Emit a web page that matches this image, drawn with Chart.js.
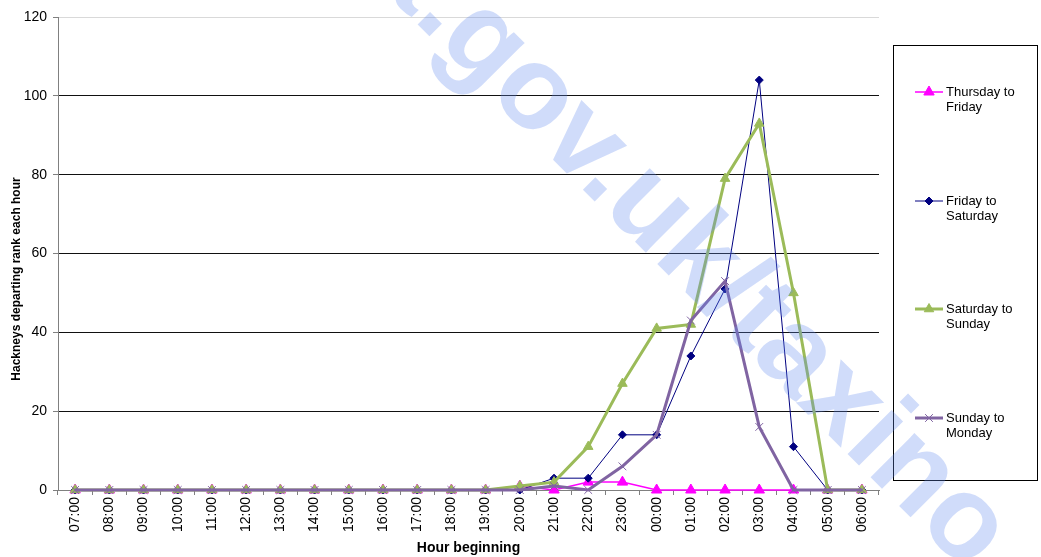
<!DOCTYPE html>
<html>
<head>
<meta charset="utf-8">
<script src="https://cdn.jsdelivr.net/npm/chart.js@4.4.1/dist/chart.umd.min.js"></script>
<style>
  html, body { margin: 0; padding: 0; background: #fff; }
  #wrap { width: 1041px; height: 557px; }
</style>
</head>
<body>
<div id="wrap"><canvas id="rankChart" width="1041" height="557"></canvas></div>
<script>
/* Hackneys departing the rank, hour by hour, four nights */

const hours = ['07:00', '08:00', '09:00', '10:00', '11:00', '12:00', '13:00', '14:00',
    '15:00', '16:00', '17:00', '18:00', '19:00', '20:00', '21:00', '22:00',
    '23:00', '00:00', '01:00', '02:00', '03:00', '04:00', '05:00', '06:00'];

const seriesNames = ['Thursday to Friday', 'Friday to Saturday', 'Saturday to Sunday', 'Sunday to Monday'];

const thuFri = [0, 0, 0, 0, 0, 0, 0, 0, 0, 0, 0, 0, 0, 1, 0, 2, 2, 0, 0, 0, 0, 0, 0, 0];
const friSat = [0, 0, 0, 0, 0, 0, 0, 0, 0, 0, 0, 0, 0, 0, 3, 3, 14, 14, 34, 51, 104, 11, 0, 0];
const satSun = [0, 0, 0, 0, 0, 0, 0, 0, 0, 0, 0, 0, 0, 1, 2, 11, 27, 41, 42, 79, 93, 50, 0, 0];
const sunMon = [0, 0, 0, 0, 0, 0, 0, 0, 0, 0, 0, 0, 0, 0, 1, 0, 6, 14, 43, 53, 16, 0, 0, 0];

const yTicks = [0, 20, 40, 60, 80, 100, 120];

const FONT = '"Liberation Sans", Arial, sans-serif';
Chart.defaults.font.family = FONT;
Chart.defaults.color = '#000';

// legenda v rámečku vpravo, popisky na dva řádky
const boxLegend = {
    id: 'boxLegend',
    afterDraw(chart) {
        const ctx = chart.ctx;
        const left = chart.chartArea.right + 14, right = 1037, top = 45, bottom = 480;
        ctx.save();
        ctx.strokeStyle = '#000';
        ctx.lineWidth = 1;
        ctx.strokeRect(left + 0.5, top + 0.5, right - left, bottom - top);

        const step = (bottom - top) / chart.data.datasets.length;
        ctx.font = '13px ' + FONT;
        ctx.textBaseline = 'middle';
        ctx.textAlign = 'left';
        chart.data.datasets.forEach((ds, i) => {
            const cy = top + step * (i + 0.5);
            const y1 = Math.round(cy - 7.5);
            ctx.strokeStyle = ds.borderColor;
            ctx.lineWidth = ds.borderWidth;
            ctx.beginPath();
            ctx.moveTo(left + 22, y1);
            ctx.lineTo(left + 50, y1);
            ctx.stroke();
            ctx.fillStyle = ds.pointBackgroundColor;
            ctx.strokeStyle = ds.pointBorderColor;
            ctx.lineWidth = ds.pointBorderWidth;
            Chart.helpers.drawPoint(ctx, {
                pointStyle: ds.pointStyle, radius: ds.pointRadius, rotation: 0, borderWidth: ds.pointBorderWidth
            }, left + 36, y1);
            const m = ds.label.match(/^(.* to) (.*)$/);
            ctx.fillStyle = '#000';
            ctx.fillText(m[1], left + 53, y1);
            ctx.fillText(m[2], left + 53, y1 + 15.5);
        });
        ctx.restore();
    }
};

// popisek osy y
const yTitle = {
    id: 'yTitle',
    afterDraw(chart) {
        const ctx = chart.ctx;
        ctx.save();
        ctx.translate(17, 279);
        ctx.rotate(-Math.PI / 2);
        ctx.font = 'bold 12px ' + FONT;
        ctx.fillStyle = '#000';
        ctx.textAlign = 'center';
        ctx.textBaseline = 'middle';
        ctx.fillText('Hackneys departing rank each hour', 0, 0);
        ctx.restore();
    }
};

// vodoznak přes celý graf
const watermark = {
    id: 'watermark',
    afterDraw(chart) {
        const ctx = chart.ctx;
        const size = 118;
        ctx.save();
        ctx.font = 'bold ' + size + 'px ' + FONT;
        ctx.fillStyle = 'rgba(100, 140, 240, 0.3)';
        const before = ctx.measureText('dft.').width;
        const g = ctx.measureText('g').width;
        ctx.translate(474, 54);
        ctx.rotate(45 * Math.PI / 180);
        ctx.fillText('dft.gov.uk/taxino', -before - g / 2, 0.16 * size);
        ctx.restore();
    }
};

const ctx = document.getElementById('rankChart').getContext('2d');
new Chart(ctx, {
    type: 'line',
    data: {
        labels: hours,
        datasets: [
            {
                label: seriesNames[0], data: thuFri, order: 4,
                borderColor: '#FF00FF', borderWidth: 1.5,
                pointStyle: 'triangle', pointRadius: 6,
                pointBackgroundColor: '#FF00FF', pointBorderColor: '#FF00FF', pointBorderWidth: 1
            },
            {
                label: seriesNames[1], data: friSat, order: 3,
                borderColor: '#000080', borderWidth: 1,
                pointStyle: 'rectRot', pointRadius: 4,
                pointBackgroundColor: '#000080', pointBorderColor: '#000080', pointBorderWidth: 1
            },
            {
                label: seriesNames[2], data: satSun, order: 2,
                borderColor: '#9BBB59', borderWidth: 3,
                pointStyle: 'triangle', pointRadius: 5.5,
                pointBackgroundColor: '#9BBB59', pointBorderColor: '#9BBB59', pointBorderWidth: 1
            },
            {
                label: seriesNames[3], data: sunMon, order: 1,
                borderColor: '#8064A2', borderWidth: 3,
                pointStyle: 'crossRot', pointRadius: 5.5,
                pointBackgroundColor: '#8064A2', pointBorderColor: '#8064A2', pointBorderWidth: 1
            }
        ].map(ds => ({ ...ds, tension: 0, clip: false, fill: false }))
    },
    options: {
        responsive: false,
        animation: false,
        events: [],
        layout: { padding: { top: 17, right: 162, bottom: 0, left: 0 } },
        plugins: {
            legend: { display: false },
            tooltip: { enabled: false }
        },
        scales: {
            x: {
                offset: true,
                afterFit: s => { s.height = 67; },
                grid: {
                    offset: true,
                    drawOnChartArea: false,
                    tickLength: 5,
                    tickColor: '#808080'
                },
                border: { color: '#808080', width: 1 },
                ticks: {
                    autoSkip: false,
                    minRotation: 90,
                    maxRotation: 90,
                    padding: 2,
                    font: { size: 14 }
                },
                title: {
                    display: true,
                    text: 'Hour beginning',
                    font: { size: 14, weight: 'bold' },
                    padding: { top: 0, bottom: 0 }
                }
            },
            y: {
                min: 0,
                max: 120,
                afterFit: s => { s.width = 58; },
                afterBuildTicks: s => { s.ticks = yTicks.map(v => ({ value: v })); },
                grid: {
                    color: c => c.tick && c.tick.value === 120 ? '#d9d9d9' : '#111',
                    tickLength: 5,
                    tickColor: '#808080'
                },
                border: { color: '#808080', width: 1 },
                ticks: { padding: 6, font: { size: 14 } }
            }
        }
    },
    plugins: [boxLegend, yTitle, watermark]
});
</script>
</body>
</html>
